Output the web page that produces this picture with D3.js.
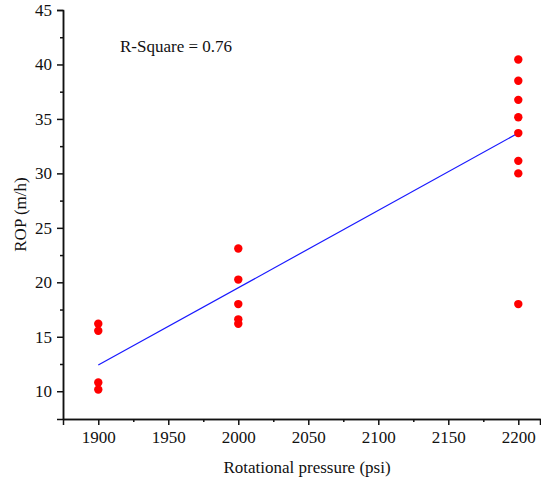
<!DOCTYPE html>
<html><head><meta charset="utf-8">
<script src="https://cdn.jsdelivr.net/npm/d3@7"></script>
<style>body{margin:0;background:#fff;} svg{display:block;}</style>
</head><body>
<script>
const xValues1900 = [1900, 1900, 1900, 1900];
const yValues1900 = [16.2, 15.55, 10.8, 10.15];
const xValues2000 = [2000, 2000, 2000, 2000, 2000];
const yValues2000 = [23.1, 20.25, 18.0, 16.6, 16.2];
const xValues2200 = [2200, 2200, 2200, 2200, 2200, 2200, 2200, 2200];
const yValues2200 = [40.45, 38.5, 36.75, 35.15, 33.7, 31.15, 30.0, 18.0];
const fitX = [1900, 2200];
const fitY = [12.4, 33.7];
const xTicks = [1900, 1950, 2000, 2050, 2100, 2150, 2200];
const yTicks = [10, 15, 20, 25, 30, 35, 40, 45];
const rSquareLabel = "R-Square = 0.76";
const xTitle = "Rotational pressure (psi)";
const yTitle = "ROP (m/h)";

const W = 541, H = 482;
const m = {l: 63, r: 1, t: 10, b: 63};
const FONT = "'Liberation Serif', 'Times New Roman', serif";
const svg = d3.select("body").append("svg").attr("width", W).attr("height", H)
  .style("font-family", FONT);

const x = d3.scaleLinear().domain([1874.8, 2215.5]).range([m.l, W - m.r]);
const y = d3.scaleLinear().domain([7.45, 45]).range([H - m.b, m.t]);

const points = [];
[[xValues1900, yValues1900], [xValues2000, yValues2000], [xValues2200, yValues2200]].forEach(([xs, ys]) => {
  xs.forEach((v, i) => points.push([v, ys[i]]));
});

const xAxis = d3.axisBottom(x).tickValues(xTicks).tickSizeOuter(0).tickSize(6).tickPadding(6).tickFormat(d3.format("d"));
const xMinor = d3.axisBottom(x).tickValues([1925, 1975, 2025, 2075, 2125, 2175]).tickSize(3).tickSizeOuter(0).tickFormat("");
const yAxis = d3.axisLeft(y).tickValues(yTicks).tickSizeOuter(0).tickSize(6).tickPadding(5);
const yMinor = d3.axisLeft(y).tickValues([12.5, 17.5, 22.5, 27.5, 32.5, 37.5, 42.5]).tickSize(3).tickSizeOuter(0).tickFormat("");

svg.append("g").attr("transform", `translate(0,${H - m.b})`).call(xAxis);
svg.append("g").attr("transform", `translate(0,${H - m.b})`).call(xMinor);
svg.append("g").attr("transform", `translate(${m.l},0)`).call(yAxis);
svg.append("g").attr("transform", `translate(${m.l},0)`).call(yMinor);

svg.selectAll("g").attr("font-family", FONT);
svg.selectAll(".domain").attr("stroke", "#111").attr("stroke-width", 1.5);
svg.selectAll(".tick line").attr("stroke", "#111").attr("stroke-width", 1.5);
svg.selectAll(".tick text").attr("fill", "#111").style("font-size", "17px").style("font-family", FONT);

svg.append("line")
  .attr("x1", x(fitX[0])).attr("y1", y(fitY[0]))
  .attr("x2", x(fitX[1])).attr("y2", y(fitY[1]))
  .attr("stroke", "#1a1aff").attr("stroke-width", 1.2);

svg.append("g").selectAll("circle").data(points).join("circle")
  .attr("cx", d => x(d[0])).attr("cy", d => y(d[1])).attr("r", 4.2)
  .attr("fill", "#ff0000");

svg.append("text").attr("x", 120).attr("y", 52).text(rSquareLabel)
  .style("font-size", "17px").attr("fill", "#111");
svg.append("text").attr("x", 307).attr("y", 473).attr("text-anchor", "middle").text(xTitle)
  .style("font-size", "17px").attr("fill", "#111");
svg.append("text").attr("transform", `translate(26,${(m.t + H - m.b) / 2}) rotate(-90)`)
  .attr("text-anchor", "middle").text(yTitle).style("font-size", "17px").attr("fill", "#111");
</script>
</body></html>
